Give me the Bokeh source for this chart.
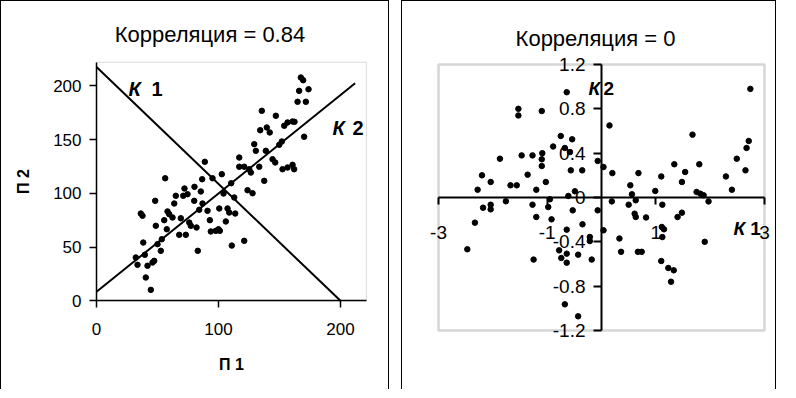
from bokeh.plotting import figure
from bokeh.models import Range1d, FixedTicker, Label, BoxAnnotation
from bokeh.layouts import row
from bokeh.embed import file_html
from bokeh.resources import INLINE

# ---------------- left panel data: П1 vs П2 ----------------
p1_vals = [56.3, 72.1, 80.3, 85.5, 88.8, 86.6, 95.1, 102.7, 110.4, 117.0, 117.0, 121.1, 125.2,
           126.5, 129.3, 130.6, 133.4, 135.5, 134.2, 139.6, 142.0, 138.8, 137.5, 147.0, 144.3,
           146.5, 149.8, 151.9, 152.5, 156.6, 160.7, 162.0, 153.9, 156.6, 160.7, 162.3, 170.2,
           164.8, 171.6, 166.1, 173.8, 167.5, 169.4, 104.1, 65.0, 71.1, 74.6, 48.1, 63.7, 80.1,
           86.9, 36.3, 37.7, 58.2, 59.6, 62.3, 55.5, 69.1, 76.0, 77.3, 84.2, 91.0, 100.6, 107.4,
           108.8, 92.9, 106.0, 48.6, 57.6, 82.0, 93.7, 97.8, 100.0, 101.1, 67.8, 73.2, 53.5,
           38.3, 50.0, 83.0, 110.9, 52.7, 32.2, 33.6, 39.6, 41.8, 45.9, 47.3, 40.4, 44.5, 121.1,
           123.8, 127.9, 112.9, 113.7]
p2_vals = [114.0, 104.5, 106.0, 101.7, 129.3, 113.1, 114.0, 117.8, 109.4, 133.3, 124.7, 124.7,
           122.4, 119.3, 145.7, 139.5, 124.7, 176.7, 158.7, 161.2, 156.6, 139.5, 111.6, 172.1,
           131.7, 128.7, 145.1, 148.2, 122.4, 124.0, 126.5, 122.4, 162.8, 165.9, 166.8, 166.5,
           152.6, 185.1, 185.1, 195.3, 196.8, 207.7, 205.2, 99.8, 97.7, 97.7, 99.2, 93.0, 90.5,
           93.0, 90.5, 81.2, 79.1, 83.1, 80.6, 77.5, 75.0, 76.8, 72.8, 69.8, 84.7, 83.7, 85.9,
           85.9, 82.1, 75.0, 73.8, 69.8, 66.6, 68.2, 64.5, 65.1, 66.6, 65.1, 61.4, 61.4, 57.3,
           54.2, 52.7, 46.5, 51.4, 46.5, 40.3, 33.5, 42.8, 32.6, 35.6, 37.2, 21.7, 10.2, 55.8,
           102.9, 100.1, 96.1, 81.2]
k1_line_x = [0, 200]
k1_line_y = [217.5, 0]
k2_line_x = [0, 212]
k2_line_y = [8.4, 202.4]
left_xticks = [0, 100, 200]
left_yticks = [0, 50, 100, 150, 200]
left_x_max = 221.3
left_y_max = 221.7

# ---------------- right panel data: К1 vs К2 ----------------
k1_vals = [-0.64, -1.53, -1.53, -1.10, -0.75, -0.54, -0.89, -0.675, -0.58, -1.09, -1.47, -1.27,
           -1.87, -1.10, -1.10, -0.07, -2.20, -1.36, -0.565, -0.355, -2.04, -1.675, -1.56, -1.025,
           -2.28, -1.20, -0.49, -0.61,
           2.74, 0.147, 1.675, 2.71, 2.67, 2.49, 0.037, 0.20, 0.68, 1.34, 1.80, 1.54, 1.10, 2.29,
           2.65, 1.48, 0.53, 0.99, 2.40, 0.56, 1.75, 1.82, 1.88,
           1.97, 0.19, 0.50, 0.63, 1.12, 0.61, 0.63, 0.82, 1.40, 1.48, 0.037, 1.11, 1.15, 1.12,
           0.33, 1.90, 0.36, 0.67, 0.74, 1.10, 1.23, 1.33, 1.28,
           -0.95, -1.76, -1.27, -2.18, -2.04, -2.04, -0.98, -0.53, -0.07, -1.20, -0.92, -2.33,
           -0.35, -0.64, -0.215, -0.215, -2.47, -0.78, -0.64, -0.43, -1.25, -0.74, -0.64, -0.18,
           -0.675, -0.43]
k2_vals = [0.95, 0.80, 0.74, 0.78, 0.555, 0.525, 0.46, 0.447, 0.41, 0.40, 0.38, 0.38,
           0.35, 0.345, 0.284, 0.33, 0.20, 0.206, 0.245, 0.245, 0.14, 0.11, 0.11, 0.14,
           0.07, 0.07, 0.056, 0.014,
           0.98, 0.65, 0.567, 0.51, 0.447, 0.35, 0.275, 0.22, 0.22, 0.30, 0.30, 0.23, 0.19, 0.19,
           0.245, 0.14, 0.11, 0.059, 0.07, 0.029, 0.05, 0.034, 0.02,
           -0.035, -0.035, -0.065, -0.025, -0.065, -0.146, -0.176, -0.18, -0.176, -0.137, -0.296,
           -0.266, -0.287, -0.357, -0.37, -0.40, -0.49, -0.49, -0.49, -0.573, -0.636, -0.657, -0.76,
           -0.016, -0.034, -0.065, -0.092, -0.065, -0.107, -0.086, -0.116, -0.116, -0.176, -0.197,
           -0.227, -0.242, -0.29, -0.356, -0.393, -0.467, -0.477, -0.507, -0.516, -0.56, -0.546,
           -0.588, -0.56, -0.964, -1.072]
right_xticks = [-3, -1, 1, 3]
right_xtick_labels = ["-3", "-1", "1", "3"]
right_yticks = [-1.2, -0.8, -0.4, 0, 0.4, 0.8, 1.2]
right_ytick_labels = ["-1.2", "-0.8", "-0.4", "0", "0.4", "0.8", "1.2"]
right_lim = 3
right_ylim = 1.2

FONT = "Liberation Sans"
box_css = {"border-left": "1px solid black", "border-top": "1px solid black",
           "border-right": "1px solid black"}


def bare_figure(width, xr, yr):
    f = figure(width=width, height=389, output_backend="svg", toolbar_location=None,
               x_range=Range1d(*xr), y_range=Range1d(*yr),
               min_border=0, min_border_left=0, min_border_right=0,
               min_border_top=0, min_border_bottom=0, styles=box_css)
    f.grid.visible = False
    f.outline_line_color = None
    f.background_fill_color = "white"
    f.border_fill_color = "white"
    f.xaxis.fixed_location = 0
    f.yaxis.fixed_location = 0
    return f


# ---------------- left figure ----------------
# the canvas is the plot frame; the axes are pinned at 0 and the grey box marks the plot area
p = bare_figure(389, (-77.9, 241.0), (-83.4, 278.4))
p.add_layout(BoxAnnotation(left=0, right=left_x_max, bottom=0, top=left_y_max,
                           fill_alpha=0, line_color="#9a9a9a", line_width=1.2,
                           level="underlay"))
p.xaxis.bounds = (0, left_x_max)
p.yaxis.bounds = (0, left_y_max)
p.xaxis.ticker = FixedTicker(ticks=left_xticks)
p.yaxis.ticker = FixedTicker(ticks=left_yticks)
for ax in (p.xaxis[0], p.yaxis[0]):
    ax.axis_line_color = "black"
    ax.axis_line_width = 1.5
    ax.major_tick_line_color = "black"
    ax.major_tick_line_width = 1.5
    ax.major_tick_out = 7
    ax.major_tick_in = 0
    ax.minor_tick_line_color = None
    ax.major_label_text_font = FONT
    ax.major_label_text_font_size = "17px"
    ax.major_label_text_color = "black"
    ax.axis_label_text_font = FONT
    ax.axis_label_text_font_size = "16px"
    ax.axis_label_text_font_style = "bold"
    ax.axis_label_text_color = "black"
    ax.axis_label_standoff = 18
p.xaxis.major_label_standoff = 15
p.yaxis.major_label_standoff = 8
p.xaxis.axis_label = "П 1"
p.yaxis.axis_label = "П 2"

p.line(k1_line_x, k1_line_y, line_color="black", line_width=2)
p.line(k2_line_x, k2_line_y, line_color="black", line_width=2)
p.scatter(p1_vals, p2_vals, size=5.5, color="black")

p.add_layout(Label(x=93.0, y=247.4, text="Корреляция = 0.84", text_align="center",
                   text_baseline="alphabetic", text_font=FONT, text_font_size="22px",
                   text_color="black"))
p.add_layout(Label(x=26.2, y=196.8, text="К", text_baseline="alphabetic", text_font=FONT,
                   text_font_size="20px", text_font_style="bold italic", text_color="black"))
p.add_layout(Label(x=45.1, y=196.8, text="1", text_baseline="alphabetic", text_font=FONT,
                   text_font_size="20px", text_font_style="bold", text_color="black"))
p.add_layout(Label(x=193.4, y=161.2, text="К", text_baseline="alphabetic", text_font=FONT,
                   text_font_size="20px", text_font_style="bold italic", text_color="black"))
p.add_layout(Label(x=209.8, y=161.2, text="2", text_baseline="alphabetic", text_font=FONT,
                   text_font_size="20px", text_font_style="bold", text_color="black"))

# ---------------- right figure ----------------
q = bare_figure(375, (-3.663, 3.2395), (-1.7414, 1.7685))
q.add_layout(BoxAnnotation(left=-right_lim, right=right_lim, bottom=-right_ylim, top=right_ylim,
                           fill_alpha=0, line_color="#777777", line_width=2.5,
                           level="underlay"))
q.xaxis.bounds = (-right_lim, right_lim)
q.yaxis.bounds = (-right_ylim, right_ylim)
q.xaxis.ticker = FixedTicker(ticks=right_xticks)
q.yaxis.ticker = FixedTicker(ticks=right_yticks)
q.xaxis.major_label_overrides = {v: s for v, s in zip(right_xticks, right_xtick_labels)}
q.yaxis.major_label_overrides = {v: s for v, s in zip(right_yticks, right_ytick_labels)}
for ax in (q.xaxis[0], q.yaxis[0]):
    ax.axis_line_color = "black"
    ax.axis_line_width = 2
    ax.major_tick_line_color = "black"
    ax.major_tick_line_width = 2
    ax.major_tick_in = 0
    ax.minor_tick_line_color = None
    ax.major_label_text_font = FONT
    ax.major_label_text_font_size = "19px"
    ax.major_label_text_color = "black"
q.xaxis.major_tick_out = 7
q.yaxis.major_tick_out = 8
q.xaxis.major_label_standoff = 21
q.yaxis.major_label_standoff = 8

q.scatter(k1_vals, k2_vals, size=5.5, color="black")

q.add_layout(Label(x=-0.11, y=1.435, text="Корреляция = 0", text_align="center",
                   text_baseline="alphabetic", text_font=FONT, text_font_size="22px",
                   text_color="black"))
q.add_layout(Label(x=-0.24, y=0.98, text="К", text_baseline="alphabetic", text_font=FONT,
                   text_font_size="19px", text_font_style="bold italic", text_color="black"))
q.add_layout(Label(x=0.037, y=0.98, text="2", text_baseline="alphabetic", text_font=FONT,
                   text_font_size="19px", text_font_style="bold", text_color="black"))
q.add_layout(Label(x=2.43, y=-0.28, text="К", text_baseline="alphabetic", text_font=FONT,
                   text_font_size="19px", text_font_style="bold italic", text_color="black"))
q.add_layout(Label(x=2.74, y=-0.28, text="1", text_baseline="alphabetic", text_font=FONT,
                   text_font_size="19px", text_font_style="bold", text_color="black"))

layout = row(p, q, spacing=12, styles={"margin-bottom": "-8px"})
open("out.html", "w").write(file_html(layout, INLINE))
